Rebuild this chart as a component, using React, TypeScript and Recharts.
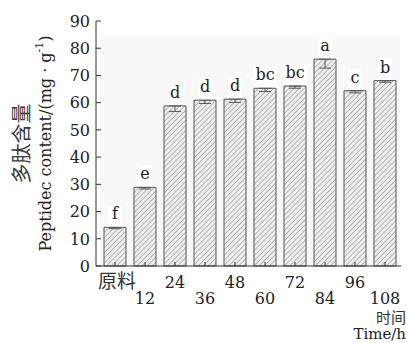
import { Bar, BarChart, ErrorBar, Label, LabelList, ReferenceArea, XAxis, YAxis } from "recharts";

const times = ["原料", "12", "24", "36", "48", "60", "72", "84", "96", "108"];
const peptide = [14.2, 28.9, 58.8, 60.9, 61.3, 65.3, 66.1, 76.0, 64.4, 68.1];
const errors = [0.5, 0.6, 2.0, 1.2, 1.2, 1.2, 0.8, 3.3, 0.8, 0.6];
const letters = ["f", "e", "d", "d", "d", "bc", "bc", "a", "c", "b"];
const yTicks = [0, 10, 20, 30, 40, 50, 60, 70, 80, 90];

// upper half of each error bar is hidden behind the white letter box in the
// original, so only the lower whisker is drawn
const chartData = times.map((time, i) => ({
  time,
  value: peptide[i],
  err: [errors[i], 0],
  letter: letters[i],
}));

const serif = "'DejaVu Serif', 'Liberation Serif', serif";
const cjk = "'Noto Sans CJK SC', sans-serif";
const ink = "#222";

function YTick(props: any) {
  const { x, y, payload } = props;
  return (
    <g>
      <line x1={x + 6} x2={x + 11} y1={y} y2={y} stroke="#333" />
      <text x={x} y={y} dy="0.36em" textAnchor="end" fontSize={16} fontFamily={serif} fill={ink}>
        {payload.value}
      </text>
    </g>
  );
}

function XTick(props: any) {
  const { x, y, payload, index } = props;
  const isCjk = payload.value === "原料";
  const row = index % 2 === 0 ? 22 : 38;
  return (
    <g>
      <line x1={x} x2={x} y1={y} y2={y - 4} stroke="#333" />
      <text
        x={x + (isCjk ? 2 : 0)}
        y={y + row}
        textAnchor="middle"
        fontSize={isCjk ? 19 : 16}
        fontFamily={isCjk ? cjk : serif}
        fill={isCjk ? "#333" : ink}
      >
        {payload.value}
      </text>
    </g>
  );
}

function LetterLabel(props: any) {
  const { x, y, width, value } = props;
  const cx = x + width / 2;
  const w = String(value).length * 10 + 4;
  return (
    <g>
      <rect x={cx - w / 2} y={y - 22} width={w} height={21} fill="#fff" />
      <text x={cx} y={y - 8} textAnchor="middle" fontSize={16} fontFamily={serif} fill={ink}>
        {value}
      </text>
    </g>
  );
}

function YTitle(props: any) {
  const vb = props.viewBox;
  const cy = vb.y + vb.height / 2;
  return (
    <g>
      <text
        x={20}
        y={cy}
        transform={`rotate(-90 20 ${cy})`}
        textAnchor="middle"
        dominantBaseline="central"
        fontSize={20}
        fontFamily={cjk}
        fill="#3a3a3a"
      >
        多肽含量
      </text>
      <text
        x={45}
        y={cy}
        transform={`rotate(-90 45 ${cy})`}
        textAnchor="middle"
        dominantBaseline="central"
        fontSize={16}
        fontFamily={serif}
        fill={ink}
      >
        Peptidec content/(mg · g
        <tspan dy={-6} fontSize={11}>-1</tspan>
        <tspan dy={6}>)</tspan>
      </text>
    </g>
  );
}

function XTitle(props: any) {
  const vb = props.viewBox;
  const right = vb.x + vb.width + 5;
  return (
    <g>
      <text x={right} y={vb.y + 57} textAnchor="end" fontSize={15} fontFamily={cjk} fill="#333">
        时间
      </text>
      <text x={right} y={vb.y + 73} textAnchor="end" fontSize={15} fontFamily={serif} fill={ink}>
        Time/h
      </text>
    </g>
  );
}

export default function App() {
  return (
    <div style={{ width: 407, height: 343, background: "#fff" }}>
      <style>{`body{margin:0}`}</style>
      <BarChart
        width={407}
        height={343}
        data={chartData}
        margin={{ top: 21, right: 6, bottom: 0, left: 0 }}
        barSize={22}
      >
        <defs>
          <pattern
            id="hatch"
            width={3.6}
            height={3.6}
            patternUnits="userSpaceOnUse"
            patternTransform="rotate(45)"
          >
            <rect width={3.6} height={3.6} fill="#efefef" />
            <line x1={0} y1={0} x2={0} y2={3.6} stroke="#8c8c8c" strokeWidth={1.2} />
          </pattern>
        </defs>
        <ReferenceArea y1={0} y2={84.5} fill="#f8f8f8" fillOpacity={1} stroke="none" ifOverflow="visible" />
        <XAxis
          dataKey="time"
          interval={0}
          height={77}
          padding={{ left: 4, right: 1 }}
          tickSize={0}
          tickMargin={0}
          tick={<XTick />}
          axisLine={{ stroke: "#333" }}
          tickLine={false}
        >
          <Label content={<XTitle />} />
        </XAxis>
        <YAxis
          width={96}
          domain={[0, 90]}
          ticks={yTicks}
          interval={0}
          tickSize={0}
          tickMargin={6}
          tick={<YTick />}
          axisLine={{ stroke: "#333" }}
          tickLine={false}
        >
          <Label content={<YTitle />} />
        </YAxis>
        <Bar dataKey="value" fill="url(#hatch)" stroke="#555" strokeWidth={1} isAnimationActive={false}>
          <ErrorBar dataKey="err" width={6} stroke="#555" strokeWidth={1} />
          <LabelList dataKey="letter" content={<LetterLabel />} />
        </Bar>
      </BarChart>
    </div>
  );
}
